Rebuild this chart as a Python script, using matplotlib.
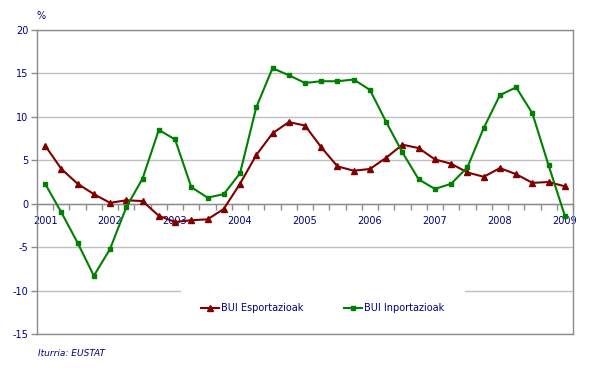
import matplotlib
matplotlib.use("Agg")
import matplotlib.pyplot as plt
from matplotlib.patches import Rectangle
import numpy as np

plt.rcParams['font.family'] = ['DejaVu Sans']
plt.rcParams['axes.unicode_minus'] = False

years = ['2001', '2002', '2003', '2004', '2005', '2006', '2007', '2008', '2009']
esportazioak = [6.7, 4.0, 2.3, 1.1, 0.1, 0.4, 0.3, -1.4, -2.1, -1.9, -1.8, -0.6,
                2.3, 5.6, 8.1, 9.4, 9.0, 6.5, 4.3, 3.8, 4.0, 5.3, 6.8, 6.4,
                5.1, 4.6, 3.6, 3.1, 4.1, 3.4, 2.4, 2.5, 2.0]
inportazioak = [2.3, -1.0, -4.5, -8.3, -5.2, -0.4, 2.9, 8.5, 7.4, 1.9, 0.7, 1.1,
                3.5, 11.1, 15.6, 14.8, 13.9, 14.1, 14.1, 14.3, 13.1, 9.4, 5.9, 2.8,
                1.7, 2.3, 4.2, 8.7, 12.5, 13.4, 10.4, 4.4, -1.4]
labels = ['BUI Esportazioak', 'BUI Inportazioak']
source = 'Iturria: EUSTAT'

W, H = 594, 371
fig = plt.figure(figsize=(W / 100, H / 100), dpi=100)
L, R, T, B = 37, 573, 30, 334
ax = fig.add_axes([L / W, 1 - B / H, (R - L) / W, (B - T) / H])

navy = '#000080'
red = '#800000'
green = '#008000'
gray = '#8c8c8c'

x = np.arange(len(esportazioak))
ax.set_xlim(-0.5, len(esportazioak) - 0.5)
ax.set_ylim(-15, 20)

ax.set_yticks(np.arange(-15, 21, 5))
ax.yaxis.grid(True, color='#c0c0c0', linewidth=1)
ax.set_axisbelow(True)

for side in ['top', 'right', 'left']:
    ax.spines[side].set_color(gray)
    ax.spines[side].set_linewidth(1)
ax.spines['bottom'].set_position(('data', 0))
ax.spines['bottom'].set_color(gray)
ax.spines['bottom'].set_linewidth(1)
ax.axhline(-15, color=gray, linewidth=1, clip_on=False, zorder=3)

ax.tick_params(axis='y', colors=gray, labelcolor=navy, labelsize=7, length=4, width=1, pad=2)
ax.set_xticks(np.arange(0, len(esportazioak), 4))
ax.set_xticklabels(years)
ax.set_xticks(np.arange(-0.5, len(esportazioak), 1), minor=True)
ax.tick_params(axis='x', which='major', length=0, labelcolor=navy, labelsize=7, pad=9)
ax.tick_params(axis='x', which='minor', length=4, width=1, color=gray, direction='out')

# legend background
ax.add_patch(Rectangle((181 / W, 1 - 328 / H), (465 - 181) / W, (328 - 287) / H,
                       transform=fig.transFigure, facecolor='white', edgecolor='none', zorder=1.5))

l1, = ax.plot(x, esportazioak, color=red, linewidth=1.5, marker='^', markersize=4,
              label=labels[0], zorder=3, clip_on=False)
l2, = ax.plot(x, inportazioak, color=green, linewidth=1.5, marker='s', markersize=3.5,
              label=labels[1], zorder=4, clip_on=False)

leg = fig.legend(handles=[l1, l2], loc='center', bbox_to_anchor=(322.5 / W, 1 - 308 / H),
                 ncol=2, frameon=False, fontsize=7, handlelength=1.9, handletextpad=0.15,
                 columnspacing=4.2, labelcolor=navy)

fig.text(41 / W, 1 - 16 / H, '%', color=navy, fontsize=7, ha='center', va='center')
fig.text(38 / W, 1 - 354 / H, source, color=navy, fontsize=6.5, style='italic',
         ha='left', va='center')

fig.savefig('out.png', dpi=100, facecolor='white')
